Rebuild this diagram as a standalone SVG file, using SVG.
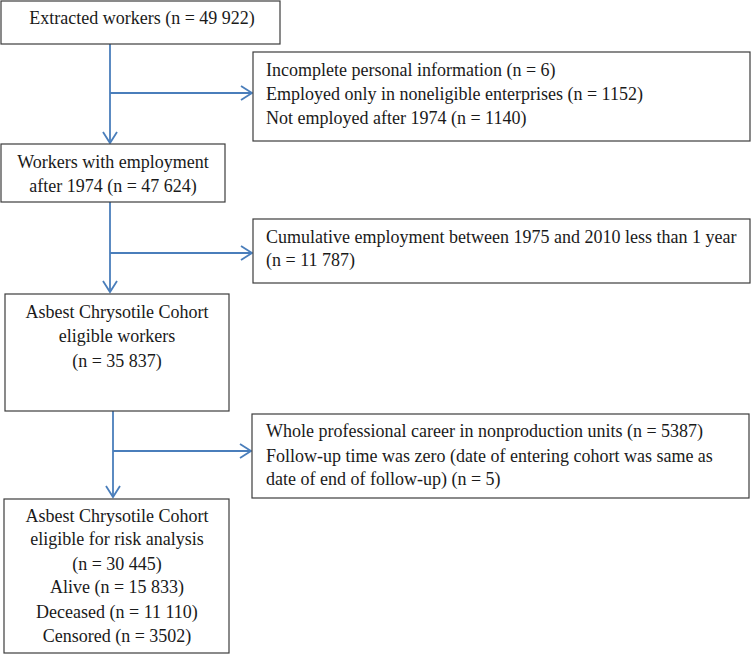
<svg xmlns="http://www.w3.org/2000/svg" width="751" height="654" viewBox="0 0 751 654">
<style>
.box{fill:#fff;stroke:#3c3c3c;stroke-width:1.2}
.t{font-family:"Liberation Serif","Times New Roman",serif;font-size:18px;fill:#1a1a1a}
.c{text-anchor:middle}
.ln{fill:none;stroke:#4a7ebb;stroke-width:1.8}
</style>
<defs>
<marker id="ah" markerWidth="14" markerHeight="16" refX="12" refY="8" orient="auto" markerUnits="userSpaceOnUse">
<path d="M1,1 L12,8 L1,15" fill="none" stroke="#4a7ebb" stroke-width="1.8"/>
</marker>
</defs>
<rect width="751" height="654" fill="#fff"/>
<g id="connectors">
<path class="ln" d="M110,44 V143" marker-end="url(#ah)"/>
<path class="ln" d="M110,93 H252" marker-end="url(#ah)"/>
<path class="ln" d="M110,202 V292" marker-end="url(#ah)"/>
<path class="ln" d="M110,253 H252" marker-end="url(#ah)"/>
<path class="ln" d="M113,411 V497" marker-end="url(#ah)"/>
<path class="ln" d="M113,451 H251" marker-end="url(#ah)"/>
</g>
<g id="extracted">
<rect class="box" x="1" y="1" width="279" height="43"/>
<text class="t c" x="142" y="24">Extracted workers (n = 49 922)</text>
</g>
<g id="excl1">
<rect class="box" x="253" y="52" width="497" height="89"/>
<text class="t" x="266" y="76">Incomplete personal information (n = 6)</text>
<text class="t" x="266" y="100">Employed only in noneligible enterprises (n = 1152)</text>
<text class="t" x="266" y="124">Not employed after 1974 (n = 1140)</text>
</g>
<g id="employed">
<rect class="box" x="1" y="144" width="224" height="58"/>
<text class="t c" x="113" y="168">Workers with employment</text>
<text class="t c" x="113" y="192">after 1974 (n = 47 624)</text>
</g>
<g id="excl2">
<rect class="box" x="253" y="219" width="497" height="64"/>
<text class="t" x="266" y="243">Cumulative employment between 1975 and 2010 less than 1 year</text>
<text class="t" x="266" y="266">(n = 11 787)</text>
</g>
<g id="eligible">
<rect class="box" x="5" y="294" width="224" height="117"/>
<text class="t c" x="117" y="318">Asbest Chrysotile Cohort</text>
<text class="t c" x="117" y="342">eligible workers</text>
<text class="t c" x="117" y="367">(n = 35 837)</text>
</g>
<g id="excl3">
<rect class="box" x="252" y="414" width="497" height="84"/>
<text class="t" x="266" y="437">Whole professional career in nonproduction units (n = 5387)</text>
<text class="t" x="266" y="462">Follow-up time was zero (date of entering cohort was same as</text>
<text class="t" x="266" y="485">date of end of follow-up) (n = 5)</text>
</g>
<g id="risk">
<rect class="box" x="4" y="499" width="225" height="154"/>
<text class="t c" x="117" y="522">Asbest Chrysotile Cohort</text>
<text class="t c" x="117" y="545">eligible for risk analysis</text>
<text class="t c" x="117" y="570">(n = 30 445)</text>
<text class="t c" x="117" y="593">Alive (n = 15 833)</text>
<text class="t c" x="117" y="618">Deceased (n = 11 110)</text>
<text class="t c" x="117" y="642">Censored (n = 3502)</text>
</g>
</svg>
